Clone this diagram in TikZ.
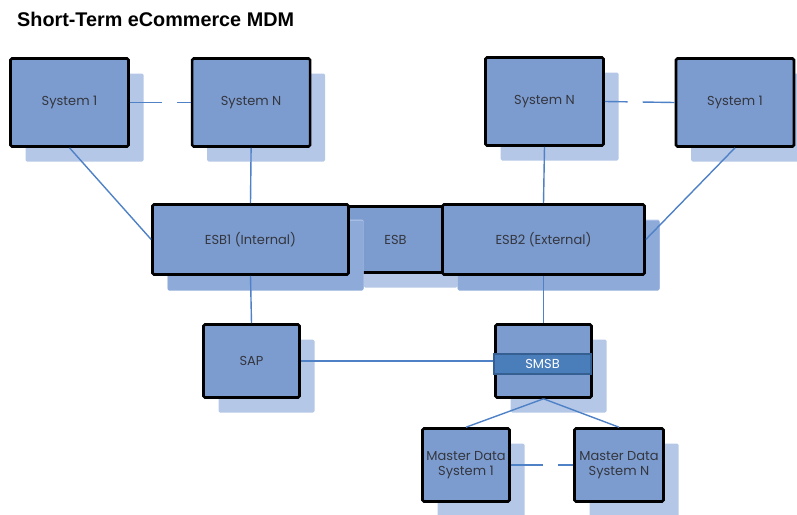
\documentclass[tikz,border=0pt]{standalone}
\usepackage{fontspec}
\setmainfont{Poppins}
\newfontfamily\titlefont{Liberation Sans}
\usepackage{tikz}
\usetikzlibrary{positioning,shadows}
\definecolor{boxblue}{HTML}{7C9CCF}
\definecolor{shadelight}{HTML}{B4C7E7}
\definecolor{shadeesb}{HTML}{8EAAD9}
\definecolor{linkblue}{HTML}{4F81C7}
\definecolor{bandblue}{HTML}{4A7EBB}
\definecolor{bandedge}{HTML}{365F91}
\definecolor{labelgray}{HTML}{34363F}

\begin{document}
\begin{tikzpicture}[
  x=1pt,y=-1pt,
  font=\fontsize{13}{15}\selectfont,
  sysbox/.style={draw=black,line width=2.6pt,fill=boxblue,rounded corners=1.5pt,
                 text=labelgray,align=center,inner sep=2pt,
                 minimum width=118pt,minimum height=88pt,
                 general shadow={shadow xshift=15pt,shadow yshift=-15pt,
                                 fill=shadelight,draw=none}},
  esbbox/.style={sysbox,minimum height=70pt,
                 general shadow={shadow xshift=15pt,shadow yshift=-16pt,
                                 fill=shadeesb,draw=none}},
  midbox/.style={sysbox,minimum width=94pt,minimum height=66pt},
  smallbox/.style={sysbox,minimum width=96pt,minimum height=73pt},
  mdbox/.style={sysbox,minimum width=87pt,minimum height=73pt},
  band/.style={draw=bandedge,line width=1.8pt,fill=bandblue,text=white,
               minimum width=97pt,minimum height=20pt,inner sep=1pt},
  link/.style={draw=linkblue,line width=1.4pt},
  gaplink/.style={link,dash pattern=on 32pt off 15pt},
]
\useasboundingbox (0,0) rectangle (797,514);

% ---- Title
\node[anchor=base west,inner sep=0pt,
      font=\titlefont\bfseries\fontsize{19.8}{22}\selectfont] (title) at (17,26)
     {Short-Term eCommerce MDM};

% ---- Systems
\node[sysbox] (s1l) at (69.5,102.5) {System 1};
\node[sysbox,right=61pt of s1l] (snl) {System N};
\node[sysbox] (snr) at (544.5,101.5) {System N};
\node[sysbox] (s1r) at (735,102.5) {System 1};

% ---- ESB
\node[midbox] (esb) at (395.5,239.5) {ESB};
\node[esbbox,minimum width=196pt] (esb1) at (250.5,239.5) {ESB1 (Internal)};
\node[esbbox,minimum width=202pt] (esb2) at (543.5,239.5) {ESB2 (External)};

% ---- SAP and SMSB
\node[smallbox] (sap) at (251.5,361) {SAP};
\node[smallbox] (smsb) at (543.5,361) {};
\node[band] (smsbband) at (542.5,364) {SMSB};

% ---- Master data
\node[mdbox] (mds1) at (466,465) {Master Data\\System 1};
\node[mdbox,minimum width=89pt] (mdsn) at (619,465) {Master Data\\System N};

% ---- Links
\draw[gaplink] (s1l.east) -- (snl.west);
\draw[gaplink] (s1r.west) -- (snr.east);
\draw[link] (s1l.south) -- (esb1.west);
\draw[link] (snl.south) -- (esb1.north);
\draw[link] (snr.south) -- (esb2.north);
\draw[link] (s1r.south) -- (esb2.east);
\draw[link] (esb1.south) -- (sap.north);
\draw[link] (esb2.south) -- (smsb.north);
\draw[link] (sap.east) -- (sap.east -| smsbband.west);
\draw[link] (smsb.south) -- (mds1.north);
\draw[link] (smsb.south) -- (mdsn.north);
\draw[gaplink] (mds1.east) -- (mdsn.west);

\end{tikzpicture}
\end{document}
